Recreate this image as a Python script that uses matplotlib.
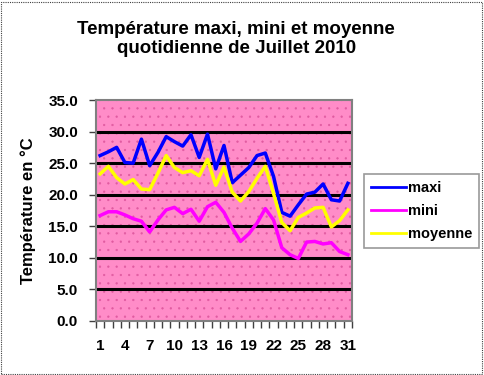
import matplotlib
matplotlib.use("Agg")
import matplotlib.pyplot as plt
import numpy as np
from matplotlib.patches import Rectangle

days = list(range(1, 32))
maxi = [26.2, 26.8, 27.5, 25.1, 25.0, 28.8, 24.6, 26.7, 29.2, 28.4, 27.7, 29.5, 25.9, 29.6, 24.1,
        27.8, 21.9, 23.1, 24.3, 26.2, 26.6, 22.9, 17.2, 16.6, 18.4, 20.1, 20.4, 21.7, 19.2, 19.0, 21.8]
mini = [16.7, 17.3, 17.3, 16.8, 16.2, 15.8, 14.1, 16.0, 17.6, 18.0, 17.0, 17.7, 15.8, 18.1, 18.8,
        17.2, 14.7, 12.6, 13.8, 15.5, 17.8, 16.0, 11.6, 10.5, 9.9, 12.5, 12.6, 12.2, 12.4, 11.0, 10.5]
moyenne = [23.3, 24.5, 22.7, 21.7, 22.4, 20.9, 20.8, 23.4, 26.2, 24.3, 23.5, 23.8, 23.0, 25.6, 21.5,
           24.4, 20.4, 19.0, 20.5, 22.6, 24.5, 20.2, 15.6, 14.3, 16.4, 17.1, 17.9, 18.0, 14.9, 15.9, 17.6]
yticks = [0, 5, 10, 15, 20, 25, 30, 35]
xlabels = [1, 4, 7, 10, 13, 16, 19, 22, 25, 28, 31]

plt.rcParams['font.family'] = ['Liberation Sans', 'DejaVu Sans']
plt.rcParams['hatch.linewidth'] = 0.4

fig = plt.figure(figsize=(4.84, 3.75), dpi=100)
fig.patches.append(Rectangle((0.003, 0.004), 0.992, 0.992, transform=fig.transFigure,
                             fill=False, edgecolor='#404040', linewidth=0.8,
                             linestyle=(0, (1, 1))))

ax = fig.add_axes([96/484, 1-321/375, 256/484, 221/375])
ax.set_facecolor('#FF8CC8')
ax.add_patch(Rectangle((0, 0), 1, 1, transform=ax.transAxes, facecolor='none',
                       edgecolor='#E05AA0', hatch='..', linewidth=0, zorder=0.5))

for v in yticks[1:-1]:
    ax.axhline(v, color='black', linewidth=2.2, zorder=1)

ax.plot(days, maxi, color='#0000FF', linewidth=2.5, label='maxi', zorder=3)
ax.plot(days, mini, color='#FF00FF', linewidth=2.5, label='mini', zorder=3)
ax.plot(days, moyenne, color='#FFFF00', linewidth=2.5, label='moyenne', zorder=3)

ax.set_xlim(0.5, 31.5)
ax.set_ylim(0, 35)
ax.set_yticks(yticks)
ax.set_yticklabels([f"{v:.1f}" for v in yticks], fontsize=11, fontweight='bold')
ax.set_xticks(xlabels)
ax.set_xticklabels([str(v) for v in xlabels], fontsize=11, fontweight='bold')
ax.tick_params(axis='x', length=0, pad=13)
ax.set_xticks(np.arange(0.5, 32, 1), minor=True)
ax.tick_params(axis='x', which='minor', length=5, width=1, color='#404040', direction='out')
ax.tick_params(axis='y', length=5, width=1, color='#404040', pad=8)
for s in ax.spines.values():
    s.set_color('#808080')
    s.set_linewidth(1.5)

ax.set_ylabel('Température en °C', fontsize=12, fontweight='bold', labelpad=9)

fig.text(0.488, 0.945, 'Température maxi, mini et moyenne\nquotidienne de Juillet 2010',
         ha='center', va='top', fontsize=13.5, fontweight='bold', linespacing=1.22)

leg = fig.legend(loc='upper left', bbox_to_anchor=(364/484, 1-174/375), frameon=True,
                 fancybox=False, edgecolor='#808080', prop={'weight': 'bold', 'size': 10.5},
                 handlelength=2.4, handletextpad=0.1, labelspacing=0.6, borderpad=0.5,
                 borderaxespad=0)
leg.get_frame().set_linewidth(1.2)
for l in leg.get_lines():
    l.set_linewidth(2)

fig.savefig('out.png', dpi=100)
